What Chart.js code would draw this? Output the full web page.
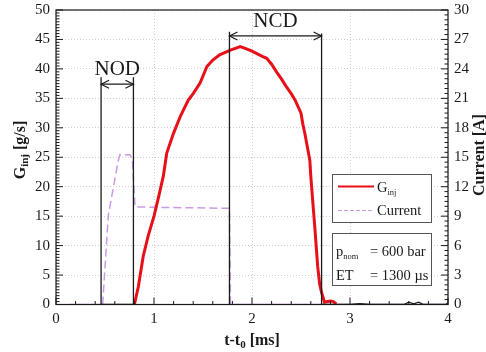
<!DOCTYPE html>
<html>
<head>
<meta charset="utf-8">
<script src="https://cdn.jsdelivr.net/npm/chart.js@4.4.0/dist/chart.umd.min.js"></script>
<style>
html, body { margin: 0; padding: 0; background: #fff; }
canvas { display: block; }
</style>
</head>
<body>
<canvas id="chart" width="486" height="352"></canvas>
<script>
'use strict';

// Injection rate G_inj [g/s] vs t-t0 [ms]
const ginjT = [0.80, 0.84, 0.89, 0.94, 1.00, 1.05, 1.095, 1.13, 1.20, 1.27, 1.35, 1.40, 1.47, 1.54, 1.60, 1.67,
  1.78, 1.88, 1.93, 2.00, 2.11, 2.15, 2.20, 2.25, 2.30, 2.35, 2.40, 2.44, 2.50, 2.52, 2.54, 2.59, 2.60,
  2.62, 2.64, 2.67, 2.69, 2.71, 2.74, 2.77, 2.80, 2.83, 2.86];
const ginjV = [0, 3.0, 8.2, 11.6, 15.0, 18.5, 21.8, 25.7, 29.1, 32.0, 34.7, 35.8, 37.6, 40.4, 41.5, 42.4,
  43.2, 43.8, 43.5, 43.0, 42.1, 41.8, 40.8, 39.5, 38.3, 37.0, 35.8, 34.7, 32.5, 30.5, 29.0, 24.5, 21.8,
  17.5, 13.3, 6.5, 3.5, 2.0, 0.4, 0.5, 0.6, 0.5, 0.1];

// Energizing current [A] (right axis)
const currentT = [0.14, 0.46, 0.476, 0.534, 0.636, 0.653, 0.755, 0.78, 0.806, 1.00, 1.40, 1.77, 1.78, 4.00];
const currentA = [0, 0, 0, 9.1, 14.7, 15.25, 15.25, 14.7, 9.95, 9.9, 9.85, 9.8, 0, 0];

// Black marker lines (left axis units), null = gap
const markT = [0.46, 0.46, 0.79, 0.79, 1.2, 1.77, 1.77, 2.2, 2.71, 2.71, 3.00, 3.10, 3.20, 3.55, 3.60, 3.65, 3.70, 3.75, 3.98, 4.00];
const markV = [38.6, 0, 0, 38.6, null, 46.3, 0, null, 46.0, 0, 0, 0.15, 0, 0, 0.4, 0.1, 0.4, 0, 0, 0.3];

// Annotated durations
const nodBounds = [0.46, 0.79];
const nodArrowY = 37.4;
const ncdBounds = [1.77, 2.71];
const ncdArrowY = 45.6;

// Axis ranges
const xRange = [0, 4, 1, 0.2];      // min, max, major, minor
const yRange = [0, 50, 5, 0.5];
const y2Range = [0, 30, 3, 0.5];

const serif = '"Liberation Serif", "Times New Roman", serif';
const red = 'rgb(232, 16, 24)';
const lilac = 'rgb(204, 153, 232)';
const ink = '#1a1a1a';

function pts(xs, ys) {
  return xs.map((x, i) => ({ x: x, y: ys[i] }));
}

// Draw text runs (for subscripts); returns total width
function runs(ctx, x, y, parts, measureOnly) {
  let cx = x;
  parts.forEach(p => {
    ctx.font = (p.bold ? 'bold ' : '') + p.size + 'px ' + serif;
    if (!measureOnly) ctx.fillText(p.t, cx, y + (p.dy || 0));
    cx += ctx.measureText(p.t).width;
  });
  return cx - x;
}

function arrowHead(ctx, x, y, dir) {
  ctx.beginPath();
  ctx.moveTo(x - dir * 8, y - 4);
  ctx.lineTo(x, y);
  ctx.lineTo(x - dir * 8, y + 4);
  ctx.stroke();
}

const decorPlugin = {
  id: 'decor',
  afterDatasetsDraw(chart) {
    const ctx = chart.ctx;
    const a = chart.chartArea;
    const sx = chart.scales.x, sy = chart.scales.y, sy2 = chart.scales.y2;
    ctx.save();

    // frame
    ctx.strokeStyle = ink;
    ctx.lineWidth = 1.2;
    ctx.strokeRect(a.left, a.top, a.right - a.left, a.bottom - a.top);

    // inward ticks
    ctx.lineWidth = 1;
    function ticks(range, fn) {
      const n = Math.round((range[1] - range[0]) / range[3]);
      const every = Math.round(range[2] / range[3]);
      for (let i = 0; i <= n; i++) fn(range[0] + i * range[3], i % every === 0 ? 7 : 3.5);
    }
    ctx.beginPath();
    ticks(xRange, (v, len) => {
      const px = sx.getPixelForValue(v);
      ctx.moveTo(px, a.bottom); ctx.lineTo(px, a.bottom - len);
    });
    ticks(yRange, (v, len) => {
      const py = sy.getPixelForValue(v);
      ctx.moveTo(a.left, py); ctx.lineTo(a.left + len, py);
    });
    ticks(y2Range, (v, len) => {
      const py = sy2.getPixelForValue(v);
      ctx.moveTo(a.right, py); ctx.lineTo(a.right - len, py);
    });
    ctx.stroke();

    // NOD / NCD arrows
    ctx.fillStyle = ink;
    ctx.strokeStyle = ink;
    ctx.lineWidth = 1.2;
    [[nodBounds, nodArrowY, 'NOD'], [ncdBounds, ncdArrowY, 'NCD']].forEach(d => {
      const x0 = sx.getPixelForValue(d[0][0]);
      const x1 = sx.getPixelForValue(d[0][1]);
      const py = sy.getPixelForValue(d[1]);
      ctx.beginPath();
      ctx.moveTo(x0, py); ctx.lineTo(x1, py);
      ctx.stroke();
      arrowHead(ctx, x0, py, -1);
      arrowHead(ctx, x1, py, 1);
      ctx.font = '21px ' + serif;
      ctx.textAlign = 'center';
      ctx.textBaseline = 'alphabetic';
      ctx.fillText(d[2], (x0 + x1) / 2, py - 9);
    });
    ctx.textAlign = 'left';

    // legend box
    const bx = a.left + 276, bw = 99;
    ctx.fillStyle = '#fff';
    ctx.strokeStyle = '#555';
    ctx.lineWidth = 1;
    ctx.fillRect(bx, 174, bw, 48);
    ctx.strokeRect(bx + 0.5, 174.5, bw, 48);
    ctx.fillRect(bx, 233, bw, 52);
    ctx.strokeRect(bx + 0.5, 233.5, bw, 52);

    ctx.lineWidth = 2;
    ctx.strokeStyle = red;
    ctx.beginPath(); ctx.moveTo(bx + 6, 186.5); ctx.lineTo(bx + 42, 186.5); ctx.stroke();
    ctx.lineWidth = 1.2;
    ctx.strokeStyle = lilac;
    ctx.setLineDash([4, 2]);
    ctx.beginPath(); ctx.moveTo(bx + 6, 210.5); ctx.lineTo(bx + 42, 210.5); ctx.stroke();
    ctx.setLineDash([]);

    ctx.fillStyle = ink;
    ctx.textBaseline = 'alphabetic';
    runs(ctx, bx + 45, 192, [{ t: 'G', size: 14.5 }, { t: 'inj', size: 8.5, dy: 3 }]);
    runs(ctx, bx + 45, 215, [{ t: 'Current', size: 14.5 }]);
    runs(ctx, bx + 4, 256, [{ t: 'p', size: 14.5 }, { t: 'nom', size: 8.5, dy: 3 }]);
    runs(ctx, bx + 38, 256, [{ t: '= 600 bar', size: 14.5 }]);
    runs(ctx, bx + 4, 280, [{ t: 'ET', size: 14.5 }]);
    runs(ctx, bx + 38, 280, [{ t: '= 1300 \u00b5s', size: 14.5 }]);

    // axis titles
    const xt = [{ t: 't-t', size: 16, bold: true }, { t: '0', size: 11, dy: 3, bold: true }, { t: ' [ms]', size: 16, bold: true }];
    let w = runs(ctx, 0, 0, xt, true);
    runs(ctx, (a.left + a.right) / 2 - w / 2, 345, xt);

    const yt = [{ t: 'G', size: 16, bold: true }, { t: 'inj', size: 11, dy: 3, bold: true }, { t: ' [g/s]', size: 16, bold: true }];
    ctx.save();
    ctx.translate(25, 150);
    ctx.rotate(-Math.PI / 2);
    w = runs(ctx, 0, 0, yt, true);
    runs(ctx, -w / 2, 0, yt);
    ctx.restore();

    const y2t = [{ t: 'Current [A]', size: 16, bold: true }];
    ctx.save();
    ctx.translate(484, 155);
    ctx.rotate(-Math.PI / 2);
    w = runs(ctx, 0, 0, y2t, true);
    runs(ctx, -w / 2, 0, y2t);
    ctx.restore();

    ctx.restore();
  }
};

const tickFont = { family: serif, size: 15 };
const gridStyle = { color: '#cfcfcf', lineWidth: 1, drawTicks: false };

function fixV(w) {
  return s => { s.width = w; s.paddingTop = 0; s.paddingBottom = 0; };
}

new Chart(document.getElementById('chart'), {
  type: 'line',
  data: {
    datasets: [
      {
        label: 'marks',
        data: pts(markT, markV),
        borderColor: ink,
        borderWidth: 1.3,
        pointRadius: 0,
        spanGaps: false,
        yAxisID: 'y',
        order: 1
      },
      {
        label: 'G_inj',
        data: pts(ginjT, ginjV),
        borderColor: red,
        borderWidth: 3,
        pointRadius: 0,
        yAxisID: 'y',
        order: 2
      },
      {
        label: 'Current',
        data: pts(currentT, currentA),
        borderColor: lilac,
        borderWidth: 1.5,
        pointRadius: 0,
        yAxisID: 'y2',
        segment: {
          borderDash: c => (c.p0.parsed.y === 0 && c.p1.parsed.y === 0) ? [] : [8, 4]
        },
        order: 3
      }
    ]
  },
  plugins: [decorPlugin],
  options: {
    responsive: false,
    animation: false,
    layout: { padding: { top: 10, left: 0, right: 0, bottom: 0 } },
    plugins: { legend: { display: false }, tooltip: { enabled: false } },
    scales: {
      x: {
        type: 'linear',
        min: xRange[0], max: xRange[1],
        ticks: { stepSize: xRange[2], font: tickFont, color: ink, padding: 6 },
        grid: gridStyle,
        border: { display: false, dash: [1, 2] },
        afterFit: s => { s.height = 47.5; s.paddingLeft = 0; s.paddingRight = 0; }
      },
      y: {
        position: 'left',
        min: yRange[0], max: yRange[1],
        ticks: { stepSize: yRange[2], font: tickFont, color: ink, padding: 6 },
        grid: gridStyle,
        border: { display: false, dash: [1, 2] },
        afterFit: fixV(56)
      },
      y2: {
        position: 'right',
        min: y2Range[0], max: y2Range[1],
        ticks: { stepSize: y2Range[2], font: tickFont, color: ink, padding: 6 },
        grid: { display: false, drawTicks: false },
        border: { display: false },
        afterFit: fixV(38)
      }
    }
  }
});
</script>
</body>
</html>
